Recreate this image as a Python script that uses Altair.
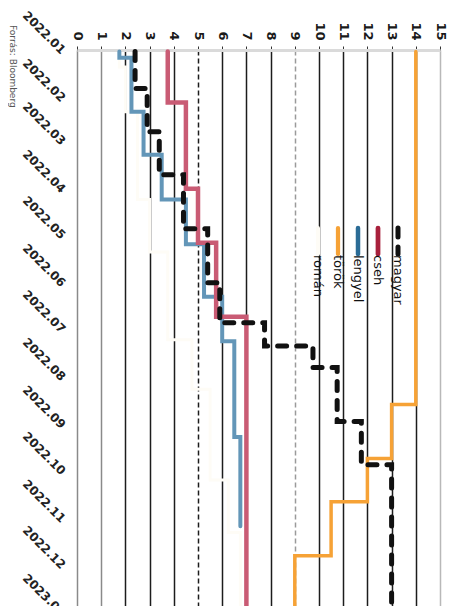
import altair as alt
import pandas as pd

# ---- data ----
series_names = ["magyar", "cseh", "lengyel", "török", "román"]
line_colors = ["#111111", "#c95b74", "#6396b8", "#f6a236", "#fefcf6"]
legend_colors = ["#111111", "#a8203c", "#2b6c96", "#f6a236", "#fefcf6"]
value_ticks = list(range(16))
source_text = ["Forrás: Bloomberg"]

magyar_dates = ["2022-01-01", "2022-01-25", "2022-02-22", "2022-03-22", "2022-04-26",
                "2022-05-31", "2022-06-26", "2022-07-11", "2022-07-25", "2022-08-29",
                "2022-09-26", "2023-01-31"]
magyar_values = [2.4, 2.9, 3.4, 4.4, 5.4, 5.9, 7.75, 9.75, 10.75, 11.75, 13.0, 13.0]

cseh_dates = ["2022-01-01", "2022-02-03", "2022-03-31", "2022-05-05", "2022-06-22", "2023-01-31"]
cseh_values = [3.75, 4.5, 5.0, 5.75, 7.0, 7.0]

lengyel_dates = ["2022-01-01", "2022-01-05", "2022-02-09", "2022-03-09", "2022-04-07",
                 "2022-05-06", "2022-06-09", "2022-07-08", "2022-09-08", "2022-11-05"]
lengyel_values = [1.75, 2.25, 2.75, 3.5, 4.5, 5.25, 6.0, 6.5, 6.75, 6.75]

torok_dates = ["2022-01-01", "2022-08-18", "2022-09-22", "2022-10-20", "2022-11-24", "2023-01-31"]
torok_values = [14.0, 13.0, 12.0, 10.5, 9.0, 9.0]

roman_dates = ["2022-01-01", "2022-01-11", "2022-02-09", "2022-04-07", "2022-05-11",
               "2022-07-07", "2022-08-08", "2022-10-06", "2022-11-09", "2023-01-31"]
roman_values = [1.75, 2.0, 2.5, 3.0, 3.75, 4.75, 5.5, 6.25, 6.75, 6.75]

# drawing order: magyar last (on top)
frames = []
for name, d, v in [("román", roman_dates, roman_values),
                   ("török", torok_dates, torok_values),
                   ("lengyel", lengyel_dates, lengyel_values),
                   ("cseh", cseh_dates, cseh_values),
                   ("magyar", magyar_dates, magyar_values)]:
    frames.append(pd.DataFrame({"series": name, "date": d, "value": v}))
df = pd.concat(frames, ignore_index=True)

legend_df = pd.DataFrame({"series": series_names})
source_df = pd.DataFrame({"text": source_text})

dash_range = [[9, 10], [1, 0], [1, 0], [1, 0], [1, 0]]
width_range = [5, 3, 3, 3.5, 1]

grid_color = {
    "condition": [
        {"test": "datum.value <= 1", "value": "#8a8a8a"},
        {"test": "datum.value == 15", "value": "#b8b8b8"},
        {"test": "datum.value == 9", "value": "#9a9a9a"},
    ],
    "value": "#1c1c1c",
}
grid_dash = {
    "condition": {"test": "datum.value == 5 || datum.value == 9", "value": [5, 3]},
    "value": [],
}

lines = alt.Chart(df).mark_line(interpolate="step-before", strokeCap="round").encode(
    x=alt.X("value:Q",
            scale=alt.Scale(domain=[0, 15], nice=False, zero=False),
            axis=alt.Axis(orient="top", values=value_ticks, title=None,
                          labelAngle=90, labelAlign="right", labelBaseline="middle",
                          labelPadding=6, labelFlush=False,
                          labelFont="DejaVu Sans", labelFontWeight="bold",
                          labelFontSize=13, labelColor="#1a1a1a",
                          tickSize=4, tickColor="#333333",
                          domainColor="#dadada", domainWidth=3,
                          grid=True, gridColor=grid_color, gridDash=grid_dash,
                          gridWidth=1.5)),
    y=alt.Y("date:T",
            scale=alt.Scale(domain=[alt.DateTime(year=2021, month=12, date=31),
                                    alt.DateTime(year=2023, month=2, date=1)],
                            reverse=True),
            axis=alt.Axis(format="%Y.%m", tickCount={"interval": "month", "step": 1},
                          labelAngle=45, labelAlign="right", labelBaseline="middle",
                          labelPadding=14, labelOverlap=False,
                          ticks=False, domain=False, grid=False, title=None,
                          labelFont="DejaVu Sans", labelFontWeight="bold",
                          labelFontSize=12, labelColor="#222222")),
    color=alt.Color("series:N", scale=alt.Scale(domain=series_names, range=line_colors), legend=None),
    strokeDash=alt.StrokeDash("series:N", scale=alt.Scale(domain=series_names, range=dash_range), legend=None),
    strokeWidth=alt.StrokeWidth("series:N", scale=alt.Scale(domain=series_names, range=width_range), legend=None),
    order=alt.Order("date:T"),
)

legend_x = alt.X("series:N",
                 scale=alt.Scale(type="point", domain=series_names, range=[321, 241], padding=0),
                 axis=None)

leg_sym = alt.Chart(legend_df).mark_rule(strokeCap="round").encode(
    x=legend_x,
    y=alt.value(178),
    y2=alt.value(204),
    color=alt.Color("series:N", scale=alt.Scale(domain=series_names, range=legend_colors), legend=None),
    strokeDash=alt.StrokeDash("series:N", scale=alt.Scale(domain=series_names, range=dash_range), legend=None),
    strokeWidth=alt.StrokeWidth("series:N", scale=alt.Scale(domain=series_names, range=[5, 4, 4, 3.5, 3]), legend=None),
)

leg_txt = alt.Chart(legend_df).mark_text(
    angle=90, align="left", baseline="middle", font="DejaVu Sans", fontSize=13, color="#111111"
).encode(
    x=legend_x,
    y=alt.value(205),
    text="series:N",
)

source = alt.Chart(source_df).mark_text(
    angle=90, align="left", baseline="middle", font="DejaVu Sans", fontSize=9, color="#555555"
).encode(
    x=alt.value(-64),
    y=alt.value(-25),
    text="text:N",
)

chart = alt.layer(lines, leg_sym, leg_txt, source).resolve_scale(
    x="independent", color="independent", strokeDash="independent", strokeWidth="independent"
).properties(
    width=363,
    height=612,
    padding={"left": 69, "top": 42, "right": 10, "bottom": 10},
    autosize=alt.AutoSizeParams(type="none"),
).configure_view(stroke=None)

chart.save("out.html", embed_options={"renderer": "svg", "actions": False})
